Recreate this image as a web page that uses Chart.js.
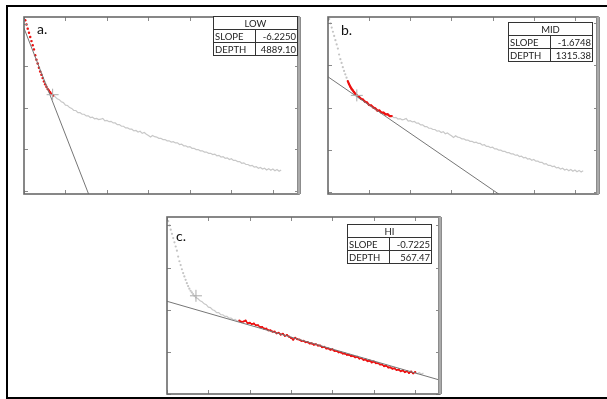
<!DOCTYPE html>
<html>
<head>
<meta charset="utf-8">
<script src="https://cdn.jsdelivr.net/npm/chart.js@4.4.0/dist/chart.umd.min.js"></script>
<style>
  html, body { margin: 0; padding: 0; background: #fff; }
  body { position: relative; width: 607px; height: 399px; overflow: hidden; font-family: Lato, 'Open Sans', sans-serif; }
  canvas { position: absolute; }
  .frame { position: absolute; left: 6px; top: 5px; width: 640px; height: 390px; border: 2px solid #000; border-right: none; pointer-events: none; z-index: 5; }
  .lbl { position: absolute; font-size: 14px; line-height: 14px; color: #111; }
  .tbl { position: absolute; border-collapse: collapse; table-layout: fixed; background: #fff; font-size: 9.5px; color: #222; z-index: 3; }
  .tbl td { border: 1px solid #333; padding: 0 1px; height: 12px; line-height: 11px; white-space: nowrap; overflow: hidden; }
  .tbl td.h { text-align: center; }
  .tbl td.v { text-align: right; }
</style>
</head>
<body>
<div class="frame"></div>

<canvas id="panelA" width="289" height="191" style="left:17px;top:10px"></canvas>
<canvas id="panelB" width="284" height="191" style="left:321px;top:10px"></canvas>
<canvas id="panelC" width="287" height="191" style="left:160px;top:210px"></canvas>

<div class="lbl" style="left:37px;top:22px">a.</div>
<div class="lbl" style="left:341px;top:23px">b.</div>
<div class="lbl" style="left:176px;top:229px">c.</div>

<script>
// Кривая (общая для всех трёх панелей)
const curveX = [
  0.03, 0.06, 0.09, 0.12, 0.15, 0.18, 0.21, 0.24, 0.27, 0.30, 0.33, 0.36, 0.39, 0.42, 0.45, 0.48, 0.51, 0.54, 0.57, 0.60, 0.63, 0.66, 0.70,
  0.75, 0.80, 0.85, 0.90, 0.95, 1.00, 1.05, 1.10, 1.15, 1.20, 1.25, 1.30, 1.35, 1.40, 1.45, 1.50, 1.55, 1.60, 1.65, 1.70, 1.75, 1.80, 1.85, 1.90, 1.95,
  2.00, 2.05, 2.10, 2.15, 2.20, 2.25, 2.30, 2.35, 2.40, 2.45, 2.50, 2.55, 2.60, 2.65, 2.70, 2.75, 2.80, 2.85, 2.90, 2.95,
  3.00, 3.05, 3.10, 3.15, 3.20, 3.25, 3.30, 3.35, 3.40, 3.45, 3.50, 3.55, 3.60, 3.65, 3.70, 3.75, 3.80, 3.85, 3.90, 3.95,
  4.00, 4.05, 4.10, 4.15, 4.20, 4.25, 4.30, 4.35, 4.40, 4.45, 4.50, 4.55, 4.60, 4.65, 4.70, 4.75, 4.80, 4.85, 4.90, 4.95,
  5.00, 5.05, 5.10, 5.15, 5.20, 5.25, 5.30, 5.35, 5.40, 5.45, 5.50, 5.55, 5.60, 5.65, 5.70, 5.75, 5.80, 5.85, 5.90, 5.95,
  6.00, 6.05, 6.10, 6.15, 6.20
];
const curveY = [
  4.10, 4.00, 3.90, 3.80, 3.70, 3.60, 3.50, 3.40, 3.26, 3.15, 3.06, 2.96, 2.87, 2.79, 2.71, 2.63, 2.56, 2.50, 2.45, 2.41, 2.37, 2.33, 2.29,
  2.26, 2.21, 2.19, 2.14, 2.12, 2.06, 2.05, 2.00, 1.98, 1.93, 1.93, 1.88, 1.88, 1.84, 1.84, 1.80, 1.80, 1.76, 1.77, 1.73, 1.74, 1.71, 1.72, 1.74, 1.68,
  1.69, 1.66, 1.67, 1.63, 1.63, 1.59, 1.59, 1.55, 1.55, 1.51, 1.51, 1.48, 1.48, 1.44, 1.45, 1.41, 1.43, 1.38, 1.40, 1.36,
  1.33, 1.29, 1.33, 1.30, 1.29, 1.26, 1.26, 1.23, 1.23, 1.20, 1.20, 1.17, 1.18, 1.15, 1.15, 1.11, 1.12, 1.08, 1.08, 1.05,
  1.06, 1.02, 1.02, 0.99, 0.99, 0.96, 0.96, 0.93, 0.93, 0.90, 0.90, 0.87, 0.88, 0.84, 0.85, 0.81, 0.82, 0.78, 0.79, 0.75,
  0.77, 0.73, 0.73, 0.70, 0.70, 0.66, 0.67, 0.63, 0.63, 0.60, 0.61, 0.57, 0.58, 0.54, 0.56, 0.52, 0.54, 0.50, 0.53, 0.49,
  0.52, 0.48, 0.51, 0.47, 0.50
];

// Деления осей
const tickX = [0, 1, 2, 3, 4, 5, 6];
const tickY = [0, 1, 2, 3, 4];

// Таблицы
const panelNames = ['LOW', 'MID', 'HI'];
const slopeLabels = ['-6.2250', '-1.6748', '-0.7225'];
const depthLabels = ['4889.10', '1315.38', '567.47'];

// Аппроксимирующие прямые (две точки на каждой)
const fitX = [[0, 1.6], [0, 4.4], [0, 6.7]];
const fitY = [[3.91, -0.19], [2.73, -0.22], [2.20, 0.30]];

// Участок, по которому строилась прямая (красный)
const redFrom = [0, 0.48, 1.72];
const redTo = [0.72, 1.55, 6.02];

// Точка перегиба (крестик)
const kneeX = [0.69, 0.70, 0.70];
const kneeY = [2.31, 2.29, 2.33];

const SPARSE_END = 0.72;

// Геометрия панелей
const panels = [
  { id: 'panelA', xMax: 6.63, yMin: -0.08, yMax: 4.18, redLine: 0, redDot: 1.2,
    table: { left: 213, top: 16 } },
  { id: 'panelB', xMax: 6.56, yMin: -0.05, yMax: 4.15, redLine: 2.2, redDot: 1,
    table: { left: 508, top: 22 } },
  { id: 'panelC', xMax: 6.60, yMin: 0, yMax: 4.20, redLine: 1.4, redDot: 1.1,
    table: { left: 347, top: 224 } }
];

const points = curveX.map((x, i) => ({ x: x, y: curveY[i] }));

// Рамка и внутренние деления
const framePlugin = {
  id: 'frame',
  afterDatasetsDraw(chart) {
    const { ctx, chartArea: { left, top, right, bottom }, scales: { x, y } } = chart;
    ctx.save();
    ctx.strokeStyle = '#8a8a8a';
    ctx.lineWidth = 1;
    ctx.beginPath();
    tickX.forEach(v => {
      const px = Math.round(x.getPixelForValue(v)) + 0.5;
      ctx.moveTo(px, bottom); ctx.lineTo(px, bottom - 4);
      ctx.moveTo(px, top); ctx.lineTo(px, top + 4);
    });
    tickY.forEach(v => {
      const py = Math.round(y.getPixelForValue(v)) + 0.5;
      ctx.moveTo(left, py); ctx.lineTo(left + 4, py);
      ctx.moveTo(right, py); ctx.lineTo(right - 4, py);
    });
    ctx.stroke();

    ctx.strokeStyle = '#6a6a6a';
    ctx.lineWidth = 1.6;
    ctx.strokeRect(left, top, right - left, bottom - top);
    // толстая правая граница
    ctx.fillStyle = '#8c8c8c';
    ctx.fillRect(right - 2, top, 4, bottom - top);
    ctx.fillStyle = '#c8c8c8';
    ctx.fillRect(right - 0.5, top, 1, bottom - top);
    ctx.restore();
  }
};

function makeTable(i) {
  const t = document.createElement('table');
  t.className = 'tbl';
  t.style.left = panels[i].table.left + 'px';
  t.style.top = panels[i].table.top + 'px';
  t.innerHTML =
    '<colgroup><col style="width:42px"><col style="width:42px"></colgroup>' +
    '<tr><td class="h" colspan="2">' + panelNames[i] + '</td></tr>' +
    '<tr><td>SLOPE</td><td class="v">' + slopeLabels[i] + '</td></tr>' +
    '<tr><td>DEPTH</td><td class="v">' + depthLabels[i] + '</td></tr>';
  document.body.appendChild(t);
}

panels.forEach((p, i) => {
  const red = points.filter(pt => pt.x >= redFrom[i] && pt.x <= redTo[i]);
  const fit = fitX[i].map((x, k) => ({ x: x, y: fitY[i][k] }));

  new Chart(document.getElementById(p.id).getContext('2d'), {
    type: 'scatter',
    data: {
      datasets: [
        { data: [{ x: kneeX[i], y: kneeY[i] }], pointStyle: 'cross', pointRadius: 6,
          borderColor: '#ababab', borderWidth: 1, backgroundColor: 'transparent' },
        { data: fit, showLine: true, borderColor: '#767676', borderWidth: 1, pointRadius: 0 },
        { data: red, showLine: p.redLine > 0, borderColor: '#ee1111', borderWidth: p.redLine,
          pointRadius: p.redDot, pointBorderWidth: 0, backgroundColor: '#ee1111' },
        { data: points, showLine: true, borderWidth: 1.2, pointBorderWidth: 0,
          backgroundColor: '#c4c4c4',
          pointRadius: c => (c.parsed && c.parsed.x < SPARSE_END) ? 1.1 : 0,
          segment: { borderColor: c => c.p0.parsed.x < SPARSE_END - 0.03 ? 'transparent' : '#c8c8c8' } }
      ]
    },
    options: {
      responsive: false,
      devicePixelRatio: 1,
      animation: false,
      events: [],
      layout: { padding: { left: 3, top: 3, right: 4, bottom: 3 } },
      plugins: { legend: { display: false }, tooltip: { enabled: false } },
      scales: {
        x: { type: 'linear', min: 0, max: p.xMax, display: false },
        y: { type: 'linear', min: p.yMin, max: p.yMax, display: false }
      }
    },
    plugins: [framePlugin]
  });
  makeTable(i);
});
</script>
</body>
</html>
